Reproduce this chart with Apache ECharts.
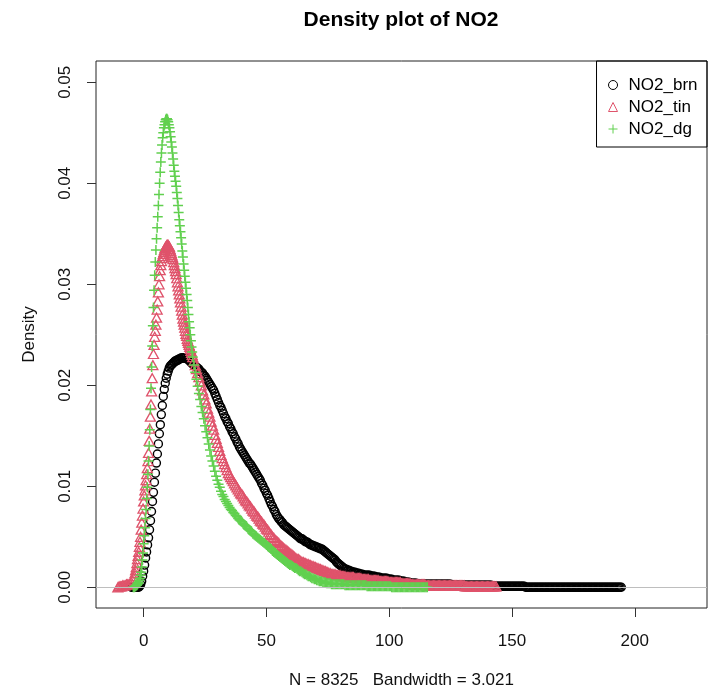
<!DOCTYPE html>
<html><head><meta charset="utf-8">
<script src="https://cdn.jsdelivr.net/npm/echarts@6/dist/echarts.min.js"></script>
<style>html,body{margin:0;padding:0;background:#fff}#c{width:710px;height:699px}</style>
</head><body><div id="c"></div>
<script>
const titleText = 'Density plot of NO2';
const xName = 'N = 8325   Bandwidth = 3.021';
const yName = 'Density';
const seriesNames = ['NO2_brn', 'NO2_tin', 'NO2_dg'];
const xTicks = [0, 50, 100, 150, 200];
const yTicks = [0, 0.01, 0.02, 0.03, 0.04, 0.05];

// NO2_brn density readings [x, density]
const brnPts = [[-5,0],[-4.5,0],[-4,0],[-3.5,0],[-3,0],[-2.5,0],[-2,0],[-1.6,0.0001],[-1.2,0.0003],[-0.8,0.0006],[-0.4,0.0011],[0,0.0016],[0.4,0.0022],[0.8,0.0029],[1.2,0.0035],[1.6,0.0042],[2,0.0049],[2.4,0.0057],[2.8,0.0066],[3.2,0.0075],[3.6,0.0085],[4,0.0094],[4.4,0.0104],[4.8,0.0113],[5.2,0.0123],[5.6,0.0132],[6,0.0142],[6.4,0.0152],[6.8,0.0161],[7.2,0.0171],[7.6,0.018],[8,0.0189],[8.4,0.0196],[8.8,0.0202],[9.2,0.0207],[9.6,0.0211],[10,0.0214],[10.4,0.0217],[10.8,0.0219],[11.2,0.022],[11.6,0.0221],[12,0.0222],[12.4,0.0223],[12.8,0.0224],[13.2,0.0224],[13.6,0.0225],[14,0.0225],[14.4,0.0226],[14.8,0.0226],[15.2,0.0227],[15.6,0.0227],[16,0.0227],[16.4,0.0227],[16.8,0.0227],[17.2,0.0227],[17.6,0.0226],[18,0.0226],[18.4,0.0225],[18.8,0.0224],[19.2,0.0223],[19.6,0.0222],[20,0.0221],
[20.5,0.022],[21,0.0219],[21.5,0.0218],[22,0.0217],[22.5,0.0216],[23,0.0214],[23.5,0.0213],[24,0.0212],[24.5,0.021],[25,0.0209],[25.5,0.0207],[26,0.0205],[26.5,0.0203],[27,0.0201],[27.5,0.0199],[28,0.0197],[28.5,0.0195],[29,0.0192],[29.5,0.0189],[30,0.0186],[30.5,0.0183],[31,0.018],[31.5,0.0178],[32,0.0175],[32.5,0.0172],[33,0.0169],[33.5,0.0167],[34,0.0164],[34.5,0.0162],[35,0.0159],[35.5,0.0157],[36,0.0154],[36.5,0.0152],[37,0.0149],[37.5,0.0147],[38,0.0144],[38.5,0.0142],[39,0.0139],[39.5,0.0137],[40,0.0135],[40.5,0.0133],[41,0.0131],[41.5,0.0129],[42,0.0127],[42.5,0.0125],[43,0.0123],[43.5,0.0122],[44,0.012],[44.5,0.0118],[45,0.0116],[45.5,0.0114],[46,0.0112],[46.5,0.011],[47,0.0108],[47.5,0.0106],[48,0.0103],[48.5,0.0101],[49,0.0098],[49.5,0.0096],[50,0.0093],[50.5,0.0091],[51,0.0088],[51.5,0.0085],[52,0.0082],[52.5,0.008],[53,0.0077],[53.5,0.0075],[54,0.0072],[54.5,0.007],[55,0.0068],[55.5,0.0067],[56,0.0065],[56.5,0.0064],[57,0.0062],[57.5,0.0061],[58,0.006],[58.5,0.0059],[59,0.0058],[59.5,0.0057],[60,0.0056],[60.5,0.0055],[61,0.0054],[61.5,0.0053],[62,0.0052],[62.5,0.0051],[63,0.005],[63.5,0.0049],[64,0.0048],[64.5,0.0048],[65,0.0047],[65.5,0.0046],[66,0.0045],[66.5,0.0045],[67,0.0044],[67.5,0.0043],[68,0.0042],[68.5,0.0042],[69,0.0041],[69.5,0.0041],[70,0.004],[70.5,0.004],[71,0.0039],[71.5,0.0039],[72,0.0038],[72.5,0.0038],[73,0.0037],[73.5,0.0036],[74,0.0035],[74.5,0.0034],[75,0.0033],[75.5,0.0032],[76,0.0031],[76.5,0.003],[77,0.0029],[77.5,0.0028],[78,0.0027],[78.5,0.0025],[79,0.0024],[79.5,0.0023],[80,0.0022],[80.5,0.0021],[81,0.002],[81.5,0.0019],[82,0.0018],[82.5,0.0018],[83,0.0017],[83.5,0.0017],[84,0.0016],[84.5,0.0016],[85,0.0015],[85.5,0.0015],[86,0.0015],[86.5,0.0014],[87,0.0014],[87.5,0.0014],[88,0.0013],[88.5,0.0013],[89,0.0013],[89.5,0.0012],[90,0.0012],[90.5,0.0012],[91,0.0012],[91.5,0.0012],[92,0.0012],[92.5,0.0011],[93,0.0011],[93.5,0.0011],[94,0.0011],[94.5,0.001],[95,0.001],[95.5,0.001],[96,0.001],[96.5,0.0009],[97,0.0009],[97.5,0.0009],[98,0.0009],[98.5,0.0009],[99,0.0009],[99.5,0.0008],[100,0.0008],[100.5,0.0008],[101,0.0008],[101.5,0.0007],[102,0.0007],[102.5,0.0007],[103,0.0007],[103.5,0.0007],[104,0.0007],[104.5,0.0006],[105,0.0006],[105.5,0.0006],[106,0.0006],[106.5,0.0005],[107,0.0005],[107.5,0.0005],[108,0.0005],[108.5,0.0004],[109,0.0004],[109.5,0.0004],[110,0.0004],[110.5,0.0004],[111,0.0004],[111.5,0.0003],[112,0.0003],[112.5,0.0003],[113,0.0003],[113.5,0.0003],[114,0.0003],[114.5,0.0003],[115,0.0003],[115.5,0.0003],[116,0.0003],[116.5,0.0003],[117,0.0003],[117.5,0.0003],[118,0.0003],[118.5,0.0003],[119,0.0003],[119.5,0.0003],[120,0.0003],[120.5,0.0003],[121,0.0003],[121.5,0.0003],[122,0.0003],[122.5,0.0003],[123,0.0003],[123.5,0.0003],[124,0.0003],[124.5,0.0003],[125,0.0003],[125.5,0.0002],[126,0.0002],[126.5,0.0002],[127,0.0002],[127.5,0.0002],[128,0.0002],[128.5,0.0002],[129,0.0002],[129.5,0.0002],[130,0.0002],[130.5,0.0002],[131,0.0002],[131.5,0.0002],[132,0.0002],[132.5,0.0002],[133,0.0002],[133.5,0.0002],[134,0.0002],[134.5,0.0002],[135,0.0002],[135.5,0.0002],[136,0.0002],[136.5,0.0002],[137,0.0002],[137.5,0.0002],[138,0.0002],[138.5,0.0002],[139,0.0002],[139.5,0.0002],[140,0.0002],[140.5,0.0002],[141,0.0002],[141.5,0.0002],[142,0.0001],[142.5,0.0001],[143,0.0001],[143.5,0.0001],[144,0.0001],[144.5,0.0001],[145,0.0001],[145.5,0.0001],[146,0.0001],[146.5,0.0001],[147,0.0001],[147.5,0.0001],[148,0.0001],[148.5,0.0001],[149,0.0001],[149.5,0.0001],[150,0.0001],[150.5,0.0001],[151,0.0001],[151.5,0.0001],[152,0.0001],[152.5,0.0001],[153,0.0001],[153.5,0.0001],[154,0.0001],[154.5,0.0001],[155,0.0001],[155.5,0],[156,0],[156.5,0],[157,0],[157.5,0],[158,0],[158.5,0],[159,0],[159.5,0],[160,0],[160.5,0],[161,0],[161.5,0],[162,0],[162.5,0],[163,0],[163.5,0],[164,0],[164.5,0],[165,0],[165.5,0],[166,0],[166.5,0],[167,0],[167.5,0],[168,0],[168.5,0],[169,0],[169.5,0],[170,0],[170.5,0],[171,0],[171.5,0],[172,0],[172.5,0],[173,0],[173.5,0],[174,0],[174.5,0],[175,0],[175.5,0],[176,0],[176.5,0],[177,0],[177.5,0],[178,0],[178.5,0],[179,0],[179.5,0],[180,0],[180.5,0],[181,0],[181.5,0],[182,0],[182.5,0],[183,0],[183.5,0],[184,0],[184.5,0],[185,0],[185.5,0],[186,0],[186.5,0],[187,0],[187.5,0],[188,0],[188.5,0],[189,0],[189.5,0],[190,0],[190.5,0],[191,0],[191.5,0],[192,0],[192.5,0],[193,0],[193.5,0],[194,0],[194.5,0]];

// NO2_tin density readings [x, density]
const tinPts = [[-10.5,0],[-10,0.0001],[-9.5,0.0001],[-9,0.0001],[-8.5,0.0002],[-8,0.0002],[-7.5,0.0002],[-7,0.0003],[-6.5,0.0003],[-6,0.0003],[-5.5,0.0004],[-5,0.0005],[-4.5,0.0007],[-4,0.0009],
[-3.75,0.0011],[-3.5,0.0014],[-3.25,0.0017],[-3,0.002],[-2.75,0.0024],[-2.5,0.0028],[-2.25,0.0031],[-2,0.0035],[-1.75,0.004],[-1.5,0.0045],[-1.25,0.005],[-1,0.0057],[-0.75,0.0064],[-0.5,0.0071],[-0.25,0.0078],[0,0.0085],[0.25,0.0091],[0.5,0.0096],[0.75,0.0101],[1,0.0106],[1.25,0.0112],[1.5,0.0118],[1.75,0.0125],[2,0.0133],[2.25,0.0145],[2.5,0.0157],[2.75,0.0169],[3,0.0181],[3.25,0.0194],[3.5,0.0207],[3.75,0.022],[4,0.0231],[4.25,0.024],[4.5,0.0248],[4.75,0.0254],[5,0.026],[5.25,0.0267],[5.5,0.0275],[5.75,0.0283],[6,0.0292],[6.25,0.03],[6.5,0.0308],[6.75,0.0314],[7,0.0319],[7.25,0.0323],[7.5,0.0326],[7.75,0.0328],[8,0.033],[8.25,0.0332],[8.5,0.0334],[8.75,0.0336],[9,0.0337],[9.25,0.0338],[9.5,0.0339],[9.75,0.0339],[10,0.0339],[10.25,0.0338],[10.5,0.0337],[10.75,0.0335],[11,0.0333],[11.25,0.0331],[11.5,0.0329],[11.75,0.0327],[12,0.0325],[12.25,0.0322],[12.5,0.0319],[12.75,0.0316],[13,0.0313],[13.25,0.031],[13.5,0.0306],[13.75,0.0302],[14,0.0298],[14.25,0.0294],[14.5,0.029],[14.75,0.0286],[15,0.0282],[15.25,0.0278],[15.5,0.0274],[15.75,0.027],[16,0.0266],[16.25,0.0263],[16.5,0.026],[16.75,0.0257],[17,0.0254],[17.25,0.0251],[17.5,0.0249],[17.75,0.0246],[18,0.0244],[18.25,0.0242],[18.5,0.024],[18.75,0.0238],[19,0.0236],[19.25,0.0234],[19.5,0.0232],[19.75,0.023],[20,0.0228],
[20.5,0.0224],[21,0.022],[21.5,0.0216],[22,0.0212],[22.5,0.0208],[23,0.0204],[23.5,0.02],[24,0.0195],[24.5,0.0191],[25,0.0186],[25.5,0.0182],[26,0.0177],[26.5,0.0173],[27,0.0169],[27.5,0.0164],[28,0.016],[28.5,0.0156],[29,0.0151],[29.5,0.0147],[30,0.0143],[30.5,0.0139],[31,0.0135],[31.5,0.0131],[32,0.0128],[32.5,0.0125],[33,0.0122],[33.5,0.0119],[34,0.0116],[34.5,0.0113],[35,0.0111],[35.5,0.0109],[36,0.0107],[36.5,0.0105],[37,0.0103],[37.5,0.0101],[38,0.0099],[38.5,0.0097],[39,0.0095],[39.5,0.0093],[40,0.0092],[40.5,0.009],[41,0.0088],[41.5,0.0086],[42,0.0085],[42.5,0.0083],[43,0.0081],[43.5,0.008],[44,0.0078],[44.5,0.0076],[45,0.0075],[45.5,0.0073],[46,0.0071],[46.5,0.007],[47,0.0068],[47.5,0.0066],[48,0.0065],[48.5,0.0063],[49,0.0062],[49.5,0.006],[50,0.0058],[50.5,0.0057],[51,0.0055],[51.5,0.0053],[52,0.0052],[52.5,0.005],[53,0.0049],[53.5,0.0047],[54,0.0046],[54.5,0.0045],[55,0.0044],[55.5,0.0042],[56,0.0041],[56.5,0.004],[57,0.0039],[57.5,0.0038],[58,0.0037],[58.5,0.0036],[59,0.0035],[59.5,0.0034],[60,0.0033],[60.5,0.0032],[61,0.0031],[61.5,0.003],[62,0.0029],[62.5,0.0028],[63,0.0028],[63.5,0.0027],[64,0.0026],[64.5,0.0025],[65,0.0025],[65.5,0.0024],[66,0.0024],[66.5,0.0023],[67,0.0023],[67.5,0.0022],[68,0.0022],[68.5,0.0021],[69,0.0021],[69.5,0.002],[70,0.002],[70.5,0.0019],[71,0.0019],[71.5,0.0018],[72,0.0018],[72.5,0.0017],[73,0.0017],[73.5,0.0016],[74,0.0016],[74.5,0.0015],[75,0.0015],[75.5,0.0014],[76,0.0014],[76.5,0.0013],[77,0.0013],[77.5,0.0013],[78,0.0013],[78.5,0.0012],[79,0.0012],[79.5,0.0012],[80,0.0012],[80.5,0.0011],[81,0.0011],[81.5,0.0011],[82,0.0011],[82.5,0.001],[83,0.001],[83.5,0.001],[84,0.001],[84.5,0.001],[85,0.001],[85.5,0.001],[86,0.0009],[86.5,0.0009],[87,0.0009],[87.5,0.0009],[88,0.0009],[88.5,0.0009],[89,0.0008],[89.5,0.0008],[90,0.0008],[90.5,0.0008],[91,0.0008],[91.5,0.0008],[92,0.0007],[92.5,0.0007],[93,0.0007],[93.5,0.0007],[94,0.0007],[94.5,0.0007],[95,0.0007],[95.5,0.0007],[96,0.0006],[96.5,0.0006],[97,0.0006],[97.5,0.0006],[98,0.0006],[98.5,0.0006],[99,0.0006],[99.5,0.0006],[100,0.0005],[100.5,0.0005],[101,0.0005],[101.5,0.0005],[102,0.0005],[102.5,0.0005],[103,0.0005],[103.5,0.0005],[104,0.0005],[104.5,0.0005],[105,0.0004],[105.5,0.0004],[106,0.0004],[106.5,0.0004],[107,0.0004],[107.5,0.0004],[108,0.0004],[108.5,0.0004],[109,0.0003],[109.5,0.0003],[110,0.0003],[110.5,0.0003],[111,0.0003],[111.5,0.0003],[112,0.0003],[112.5,0.0003],[113,0.0003],[113.5,0.0003],[114,0.0003],[114.5,0.0003],[115,0.0002],[115.5,0.0002],[116,0.0002],[116.5,0.0002],[117,0.0002],[117.5,0.0002],[118,0.0002],[118.5,0.0002],[119,0.0002],[119.5,0.0002],[120,0.0002],[120.5,0.0002],[121,0.0002],[121.5,0.0002],[122,0.0002],[122.5,0.0002],[123,0.0002],[123.5,0.0002],[124,0.0002],[124.5,0.0002],[125,0.0002],[125.5,0.0002],[126,0.0002],[126.5,0.0002],[127,0.0002],[127.5,0.0002],[128,0.0002],[128.5,0.0002],[129,0.0002],[129.5,0.0002],[130,0.0002],[130.5,0.0002],[131,0.0001],[131.5,0.0001],[132,0.0001],[132.5,0.0001],[133,0.0001],[133.5,0.0001],[134,0.0001],[134.5,0.0001],[135,0.0001],[135.5,0.0001],[136,0.0001],[136.5,0.0001],[137,0.0001],[137.5,0.0001],[138,0.0001],[138.5,0.0001],[139,0.0001],[139.5,0.0001],[140,0.0001],[140.5,0.0001],[141,0.0001],[141.5,0.0001],[142,0.0001],[142.5,0.0001],[143,0.0001],[143.5,0.0001]];

// NO2_dg density readings [x, density]
const dgPts = [[-4.2,0],[-3.75,0],[-3.5,0.0001],[-3.25,0.0001],[-3,0.0002],[-2.75,0.0002],[-2.5,0.0003],[-2.25,0.0004],[-2,0.0005],[-1.75,0.0007],[-1.5,0.0009],[-1.25,0.0012],
[-1,0.0015],[-0.75,0.002],[-0.5,0.0027],[-0.25,0.0034],[0,0.0043],[0.25,0.0051],[0.5,0.0059],[0.75,0.0068],[1,0.0077],[1.25,0.0088],[1.5,0.0099],[1.75,0.0112],[2,0.0125],[2.25,0.014],[2.5,0.0156],[2.75,0.0176],[3,0.0197],[3.25,0.0218],[3.5,0.0239],[3.75,0.0259],[4,0.0277],[4.25,0.0294],[4.5,0.0309],[4.75,0.0322],[5,0.0334],[5.25,0.0345],[5.5,0.0356],[5.75,0.0367],[6,0.0378],[6.25,0.0389],[6.5,0.04],[6.75,0.0411],[7,0.0421],[7.25,0.043],[7.5,0.0438],[7.75,0.0445],[8,0.045],[8.25,0.0455],[8.5,0.0458],[8.75,0.0461],[9,0.0463],[9.25,0.0464],[9.5,0.0464],[9.75,0.0463],[10,0.0461],[10.25,0.0458],[10.5,0.0455],[10.75,0.0451],[11,0.0446],[11.25,0.0441],[11.5,0.0436],[11.75,0.043],[12,0.0424],[12.25,0.0418],[12.5,0.0412],[12.75,0.0407],[13,0.0402],[13.25,0.0397],[13.5,0.0391],[13.75,0.0385],[14,0.0378],[14.25,0.0371],[14.5,0.0364],[14.75,0.0358],[15,0.0352],[15.25,0.0346],[15.5,0.034],[15.75,0.0333],[16,0.0327],[16.25,0.032],[16.5,0.0314],[16.75,0.0308],[17,0.0302],[17.25,0.0296],[17.5,0.029],[17.75,0.0284],[18,0.0277],[18.25,0.027],[18.5,0.0263],[18.75,0.0257],[19,0.025],[19.25,0.0244],[19.5,0.0238],[19.75,0.0233],[20,0.0228],
[20.5,0.022],[21,0.0213],[21.5,0.0206],[22,0.0199],[22.5,0.0192],[23,0.0186],[23.5,0.0179],[24,0.0173],[24.5,0.0167],[25,0.016],[25.5,0.0154],[26,0.0148],[26.5,0.0142],[27,0.0136],[27.5,0.013],[28,0.0125],[28.5,0.012],[29,0.0115],[29.5,0.011],[30,0.0106],[30.5,0.0102],[31,0.0099],[31.5,0.0095],[32,0.0092],[32.5,0.009],[33,0.0087],[33.5,0.0085],[34,0.0083],[34.5,0.0081],[35,0.0079],[35.5,0.0077],[36,0.0076],[36.5,0.0074],[37,0.0073],[37.5,0.0071],[38,0.007],[38.5,0.0068],[39,0.0067],[39.5,0.0066],[40,0.0065],[40.5,0.0063],[41,0.0062],[41.5,0.0061],[42,0.006],[42.5,0.0058],[43,0.0057],[43.5,0.0056],[44,0.0055],[44.5,0.0053],[45,0.0052],[45.5,0.0051],[46,0.005],[46.5,0.0049],[47,0.0048],[47.5,0.0047],[48,0.0046],[48.5,0.0045],[49,0.0044],[49.5,0.0043],[50,0.0042],[50.5,0.0041],[51,0.004],[51.5,0.0039],[52,0.0038],[52.5,0.0036],[53,0.0035],[53.5,0.0034],[54,0.0033],[54.5,0.0032],[55,0.0031],[55.5,0.003],[56,0.0029],[56.5,0.0028],[57,0.0027],[57.5,0.0026],[58,0.0025],[58.5,0.0024],[59,0.0023],[59.5,0.0022],[60,0.0022],[60.5,0.0021],[61,0.002],[61.5,0.0019],[62,0.0019],[62.5,0.0018],[63,0.0017],[63.5,0.0016],[64,0.0016],[64.5,0.0015],[65,0.0014],[65.5,0.0013],[66,0.0013],[66.5,0.0012],[67,0.0011],[67.5,0.0011],[68,0.001],[68.5,0.0009],[69,0.0009],[69.5,0.0008],[70,0.0008],[70.5,0.0007],[71,0.0007],[71.5,0.0006],[72,0.0006],[72.5,0.0006],[73,0.0005],[73.5,0.0005],[74,0.0005],[74.5,0.0004],[75,0.0004],[75.5,0.0004],[76,0.0004],[76.5,0.0003],[77,0.0003],[77.5,0.0003],[78,0.0003],[78.5,0.0003],[79,0.0003],[79.5,0.0003],[80,0.0003],[80.5,0.0003],[81,0.0003],[81.5,0.0003],[82,0.0002],[82.5,0.0002],[83,0.0002],[83.5,0.0002],[84,0.0002],[84.5,0.0002],[85,0.0002],[85.5,0.0002],[86,0.0002],[86.5,0.0002],[87,0.0002],[87.5,0.0002],[88,0.0002],[88.5,0.0002],[89,0.0002],[89.5,0.0002],[90,0.0002],[90.5,0.0002],[91,0.0001],[91.5,0.0001],[92,0.0001],[92.5,0.0001],[93,0.0001],[93.5,0.0001],[94,0.0001],[94.5,0.0001],[95,0.0001],[95.5,0.0001],[96,0.0001],[96.5,0.0001],[97,0.0001],[97.5,0.0001],[98,0.0001],[98.5,0.0001],[99,0.0001],[99.5,0.0001],[100,0.0001],[100.5,0.0001],[101,0],[101.5,0],[102,0],[102.5,0],[103,0],[103.5,0],[104,0],[104.5,0],[105,0],[105.5,0],[106,0],[106.5,0],[107,0],[107.5,0],[108,0],[108.5,0],[109,0],[109.5,0],[110,0],[110.5,0],[111,0],[111.5,0],[112,0],[112.5,0],[113,0],[113.5,0],[114,0],[114.5,0],[115,0],[115.5,0]];

const colors = ['#000000', '#DF536B', '#61D04F'];
const PLUS = 'path://M0,5L10,5M5,0L5,10';
const symbols = ['circle', 'triangle', PLUS];
const symbolSizes = [8, [10, 9], [10, 10]];
const borderWidths = [1.4, 1.3, 1.5];
const FONT = '"Liberation Sans", Arial, sans-serif';

const chart = echarts.init(document.getElementById('c'), null, {renderer: 'canvas'});
const pts = [brnPts, tinPts, dgPts];

const series = seriesNames.map((name, i) => ({
  name: name,
  type: 'scatter',
  data: pts[i],
  symbol: symbols[i],
  symbolSize: symbolSizes[i],
  itemStyle: {color: 'rgba(0,0,0,0)', borderColor: colors[i], borderWidth: borderWidths[i], opacity: 1},
  emphasis: {disabled: true},
  silent: true,
  animation: false,
  markLine: i === 0 ? {
    silent: true, symbol: ['none', 'none'], label: {show: false},
    lineStyle: {color: '#BEBEBE', type: 'solid', width: 1},
    data: [{yAxis: 0}]
  } : undefined
}));

chart.setOption({
  animation: false,
  backgroundColor: '#ffffff',
  title: {
    text: titleText, left: 396, top: 5, textAlign: 'center',
    textStyle: {fontFamily: FONT, fontWeight: 'bold', fontSize: 21, color: '#000'}
  },
  grid: {left: 96, right: 3, top: 61, bottom: 91, show: true, borderColor: '#222', borderWidth: 1, backgroundColor: 'rgba(0,0,0,0)'},
  legend: {
    orient: 'vertical', right: 3, top: 61,
    borderColor: '#000', borderWidth: 1, borderRadius: 0,
    padding: [15, 9.5, 9, 11.5],
    itemWidth: 9, itemHeight: 9, itemGap: 4,
    textStyle: {fontFamily: FONT, fontSize: 17, color: '#000', lineHeight: 18, padding: [0, 0, 0, 6]},
    selectedMode: false,
    data: seriesNames.map((n, i) => ({
      name: n, icon: symbols[i],
      itemStyle: {color: 'rgba(0,0,0,0)', borderColor: colors[i], borderWidth: 1}
    }))
  },
  xAxis: {
    type: 'value', min: -19.4, max: 229.4,
    axisLine: {show: false, onZero: false}, splitLine: {show: false},
    axisTick: {show: true, length: 9, customValues: xTicks, lineStyle: {color: '#333'}},
    axisLabel: {customValues: xTicks, margin: 25, fontFamily: FONT, fontSize: 17, color: '#111'},
    name: xName, nameLocation: 'middle', nameGap: 64,
    nameTextStyle: {fontFamily: FONT, fontSize: 17, color: '#111'}
  },
  yAxis: {
    type: 'value', min: -0.00205, max: 0.05211,
    axisLine: {show: false, onZero: false}, splitLine: {show: false},
    axisTick: {show: true, length: 9, customValues: yTicks, lineStyle: {color: '#333'}},
    axisLabel: {customValues: yTicks, rotate: 90, margin: 22, fontFamily: FONT, fontSize: 17, color: '#111',
      formatter: v => v.toFixed(2)},
    name: yName, nameLocation: 'middle', nameGap: 58, nameRotate: 90,
    nameTextStyle: {fontFamily: FONT, fontSize: 17, color: '#111'}
  },
  series: series
});
</script>
</body></html>
